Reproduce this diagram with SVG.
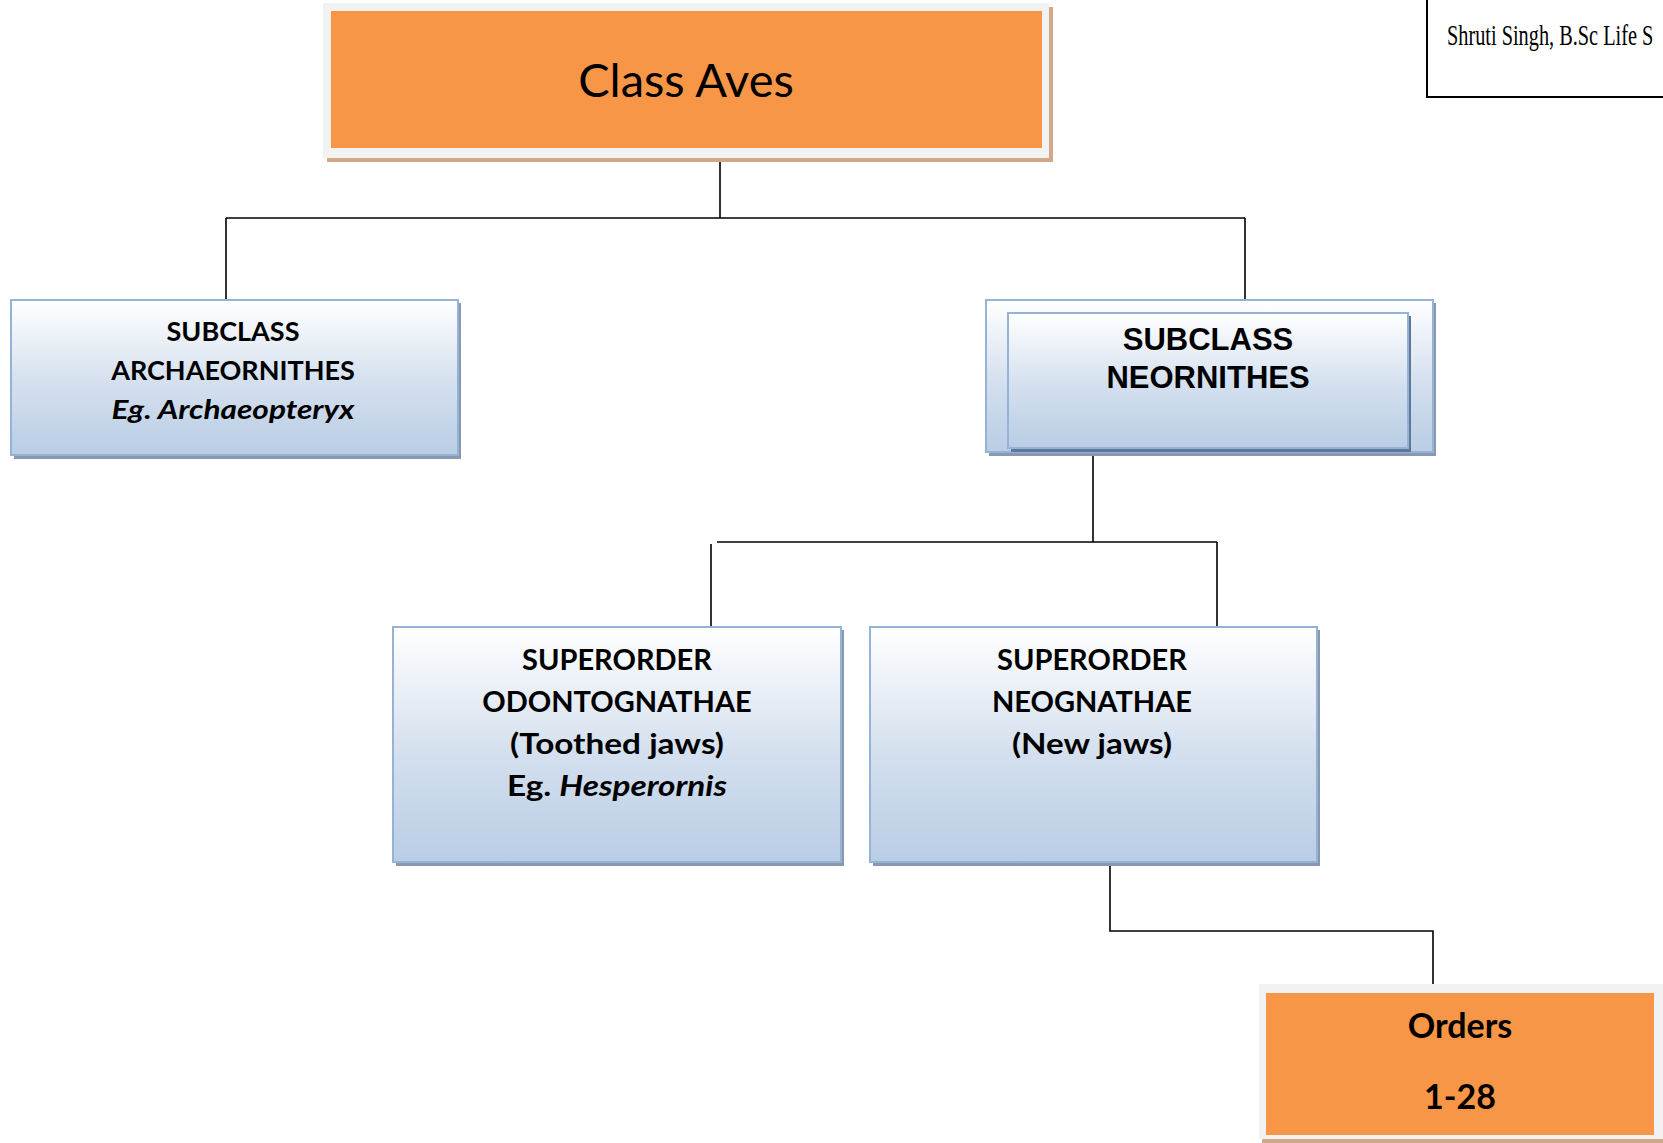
<svg xmlns="http://www.w3.org/2000/svg" width="1663" height="1143" viewBox="0 0 1663 1143">
<defs>
<linearGradient id="blueGrad" x1="0" y1="0" x2="0" y2="1">
<stop offset="0" stop-color="#ffffff"/>
<stop offset="0.55" stop-color="#d3dfee"/>
<stop offset="1" stop-color="#b9cde5"/>
</linearGradient>
<style>
.bg{fill:url(#blueGrad);stroke:#95b3d7;stroke-width:2}
.bsh{fill:#8798b0}
.frame{fill:#f2f2f2}
.fsh{fill:#d3a888}
.orange{fill:#f79646}
.conn{stroke:#000;stroke-width:1.6;fill:none}
.cal{font-family:Lato,"Open Sans",sans-serif;fill:#000;text-anchor:middle}
.b{font-weight:bold}
.ar{font-family:"Liberation Sans",Arial,sans-serif;font-weight:bold;fill:#000;text-anchor:middle}
</style>
</defs>
<rect width="1663" height="1143" fill="#ffffff"/>

<g id="connectors">
<path class="conn" d="M720 152 V218 M226 218 H1245 M226 218 V300 M37 300 H226 M1245 218 V300"/>
<path class="conn" d="M1093 452 H1219 M1093 452 V542 M717 542 H1217 M1217 542 V627 M711 544 V627"/>
<path class="conn" d="M1110 859 V931 H1433 V984"/>
</g>

<g id="node-class-aves">
<rect class="fsh" x="327" y="7" width="726" height="155"/>
<rect class="frame" x="323" y="3" width="726" height="155"/>
<rect class="orange" x="331" y="11" width="711" height="137"/>
<text class="cal" x="686" y="97" font-size="47">Class Aves</text>
</g>

<g id="node-attribution">
<rect x="1427" y="-5" width="245" height="102" fill="#fff" stroke="#000" stroke-width="2"/>
<text transform="translate(1447,45) scale(0.7,1)" x="0" y="0" font-family="'Liberation Serif',serif" font-size="29" fill="#000">Shruti Singh, B.Sc Life S</text>
</g>

<g id="node-archaeornithes">
<rect class="bsh" x="14" y="303" width="447" height="156"/>
<rect class="bg" x="11" y="300" width="447" height="155"/>
<text class="cal b" x="233" y="341" font-size="27">SUBCLASS</text>
<text class="cal b" x="233" y="380" font-size="27">ARCHAEORNITHES</text>
<text class="cal b" x="233" y="419" font-size="27" font-style="italic" textLength="243" lengthAdjust="spacingAndGlyphs">Eg. Archaeopteryx</text>
</g>

<g id="node-neornithes">
<rect class="bsh" x="989" y="303" width="447" height="153"/>
<rect class="bg" x="986" y="300" width="447" height="152"/>
<rect x="1011" y="316" width="400" height="136" fill="#5f7898"/>
<rect class="bg" x="1008" y="313" width="400" height="135"/>
<text class="ar" x="1208" y="350" font-size="31">SUBCLASS</text>
<text class="ar" x="1208" y="388" font-size="31">NEORNITHES</text>
</g>

<g id="node-odontognathae">
<rect class="bsh" x="396" y="630" width="448" height="236"/>
<rect class="bg" x="393" y="627" width="448" height="235"/>
<text class="cal b" x="617" y="670" font-size="29">SUPERORDER</text>
<text class="cal b" x="617" y="712" font-size="29">ODONTOGNATHAE</text>
<text class="cal b" x="617" y="754" font-size="29" textLength="214" lengthAdjust="spacingAndGlyphs">(Toothed jaws)</text>
<text class="cal b" x="617" y="796" font-size="29" textLength="220" lengthAdjust="spacingAndGlyphs">Eg. <tspan font-style="italic">Hesperornis</tspan></text>
</g>

<g id="node-neognathae">
<rect class="bsh" x="873" y="630" width="447" height="236"/>
<rect class="bg" x="870" y="627" width="447" height="235"/>
<text class="cal b" x="1092" y="670" font-size="29">SUPERORDER</text>
<text class="cal b" x="1092" y="712" font-size="29">NEOGNATHAE</text>
<text class="cal b" x="1092" y="754" font-size="29" textLength="160" lengthAdjust="spacingAndGlyphs">(New jaws)</text>
</g>

<g id="node-orders">
<rect class="fsh" x="1262" y="988" width="404" height="155"/>
<rect class="frame" x="1259" y="984" width="404" height="155"/>
<rect class="orange" x="1266" y="993" width="388" height="142"/>
<text class="cal b" x="1460" y="1038" font-size="34">Orders</text>
<text class="cal b" x="1460" y="1109" font-size="34">1-28</text>
</g>
</svg>
